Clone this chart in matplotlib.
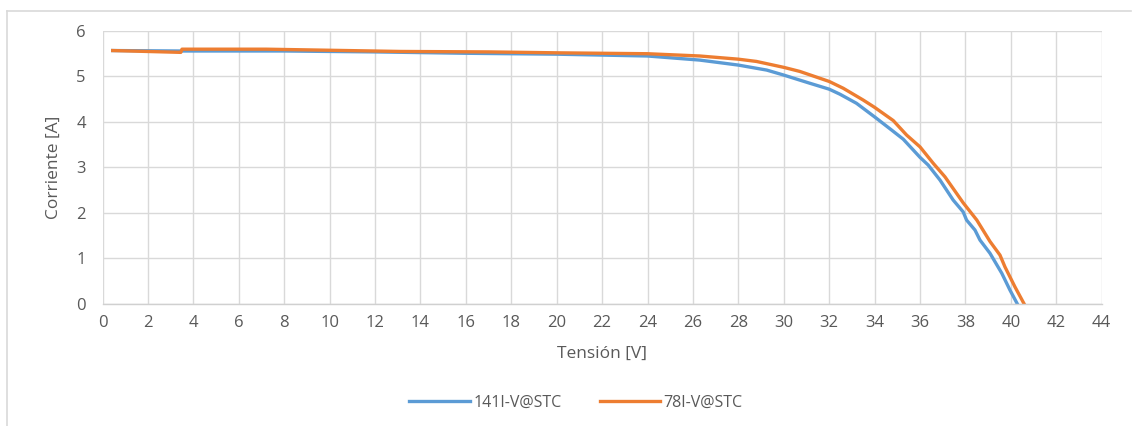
import matplotlib
matplotlib.use("Agg")
import matplotlib.pyplot as plt
from matplotlib.lines import Line2D

plt.rcParams['font.family'] = ['Open Sans', 'DejaVu Sans']

# I-V curve of module 141
v_141 = [0.45, 3.4, 8.0, 12.0, 16.0, 20.0, 24.0, 26.3, 28.0, 29.25, 30.0, 31.15,
         32.0, 32.47, 33.2, 34.0, 34.75, 35.26, 36.0, 36.36, 36.88, 37.46, 37.9,
         38.05, 38.42, 38.64, 39.08, 39.6, 39.96, 40.28]
i_141 = [5.57, 5.56, 5.56, 5.54, 5.51, 5.49, 5.45, 5.36, 5.25, 5.14, 5.03, 4.85,
         4.72, 4.61, 4.41, 4.11, 3.82, 3.62, 3.22, 3.05, 2.72, 2.28, 2.02,
         1.84, 1.62, 1.40, 1.11, 0.67, 0.30, 0.0]

# I-V curve of module 78
v_78 = [0.45, 3.45, 3.5, 7.2, 13.1, 17.0, 20.0, 24.0, 26.3, 28.0, 28.8, 30.0, 30.71,
        32.0, 32.62, 33.5, 34.0, 34.82, 35.41, 36.0, 36.58, 37.1, 37.9, 38.5,
        39.08, 39.52, 39.74, 40.18, 40.58]
i_78 = [5.57, 5.53, 5.60, 5.60, 5.55, 5.54, 5.52, 5.50, 5.45, 5.38, 5.33, 5.20, 5.11,
        4.89, 4.74, 4.48, 4.32, 4.03, 3.71, 3.45, 3.09, 2.79, 2.22, 1.84,
        1.37, 1.07, 0.81, 0.37, 0.0]

x_ticks = list(range(0, 46, 2))
y_ticks = list(range(0, 7))

text_color = "#595959"
grid_color = "#d9d9d9"

fig = plt.figure(figsize=(11.32, 4.26), dpi=100)
ax = fig.add_axes([102.5 / 1132, (426 - 303.7) / 426, (1101.7 - 102.5) / 1132, (303.7 - 31) / 426])

ax.plot(v_141, i_141, color="#5b9bd5", lw=2.4, label="141I-V@STC", solid_joinstyle="round")
ax.plot(v_78, i_78, color="#ed7d31", lw=2.4, label="78I-V@STC", solid_joinstyle="round")

ax.set_xlim(0, 44)
ax.set_ylim(0, 6)
ax.set_xticks(x_ticks)
ax.set_yticks(y_ticks)
ax.grid(True, color=grid_color, lw=1.0)
ax.set_axisbelow(True)
for side in ("top", "right", "left"):
    ax.spines[side].set_visible(False)
ax.spines["bottom"].set_color("#d0d0d0")
ax.spines["bottom"].set_linewidth(1.0)
ax.tick_params(length=0, colors=text_color, labelsize=12, pad=8)
ax.tick_params(axis="y", pad=12)

ax.set_xlabel("Tensión [V]", color=text_color, fontsize=12.5, labelpad=11)
ax.set_ylabel("Corriente [A]", color=text_color, fontsize=12.5, labelpad=10)

fig.legend(loc="center", bbox_to_anchor=(576 / 1132, 1 - 403 / 426), ncol=2, frameon=False,
           fontsize=11.5, labelcolor=text_color, handlelength=3.8, handletextpad=0.2,
           columnspacing=2.4)

# chart frame (top and left edges)
fig.add_artist(Line2D([6.5 / 1132, 1131 / 1132], [1 - 10.5 / 426, 1 - 10.5 / 426],
                      transform=fig.transFigure, color="#d9d9d9", lw=1.2))
fig.add_artist(Line2D([6.5 / 1132, 6.5 / 1132], [0, 1 - 10.5 / 426],
                      transform=fig.transFigure, color="#d9d9d9", lw=1.2))

fig.savefig("out.png", dpi=100, facecolor="white")
